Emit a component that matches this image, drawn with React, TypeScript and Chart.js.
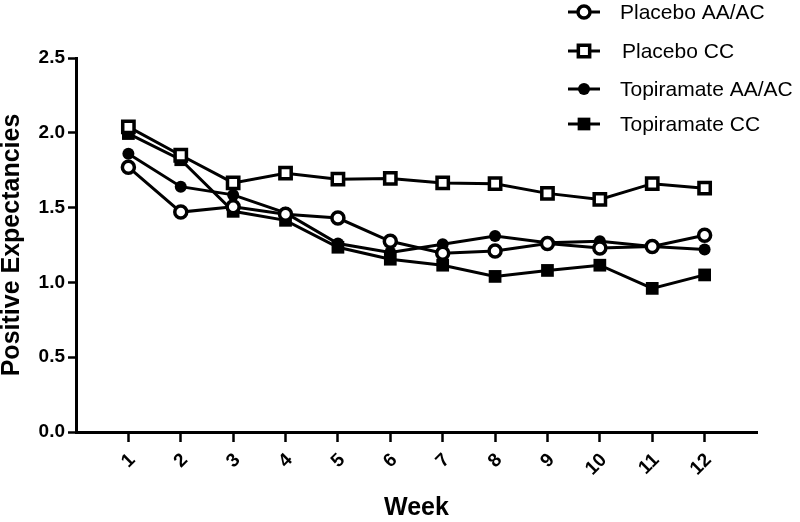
import React, { useEffect, useRef } from "react";
import { Chart, registerables } from "chart.js";

Chart.register(...registerables);

const weeks = [1, 2, 3, 4, 5, 6, 7, 8, 9, 10, 11, 12];
const placeboAA = [1.77, 1.47, 1.505, 1.455, 1.43, 1.275, 1.195, 1.21, 1.26, 1.23, 1.24, 1.315];
const placeboCC = [2.04, 1.85, 1.665, 1.73, 1.69, 1.695, 1.665, 1.66, 1.595, 1.555, 1.66, 1.63];
const topiramateAA = [1.86, 1.64, 1.585, 1.465, 1.26, 1.2, 1.255, 1.31, 1.265, 1.275, 1.24, 1.22];
const topiramateCC = [1.995, 1.82, 1.475, 1.415, 1.235, 1.155, 1.115, 1.04, 1.08, 1.115, 0.96, 1.05];
const seriesLabels = ["Placebo AA/AC", "Placebo CC", "Topiramate AA/AC", "Topiramate CC"];
const yTickValues = [0, 0.5, 1.0, 1.5, 2.0, 2.5];

const FONT = '"Liberation Sans", Arial, Helvetica, sans-serif';

function drawMarker(ctx: CanvasRenderingContext2D, style: string, x: number, y: number, r: number, fill: string, bw: number) {
  ctx.save();
  ctx.fillStyle = fill;
  ctx.strokeStyle = "#000";
  ctx.lineWidth = bw;
  ctx.beginPath();
  if (style === "rect") {
    const s = r * Math.SQRT1_2;
    ctx.rect(x - s, y - s, 2 * s, 2 * s);
  } else {
    ctx.arc(x, y, r, 0, Math.PI * 2);
  }
  ctx.fill();
  if (bw > 0) ctx.stroke();
  ctx.restore();
}

const legendRowsY = [12, 51, 89, 124];

const legendPlugin = {
  id: "customLegend",
  afterDraw(chart: any) {
    const ctx: CanvasRenderingContext2D = chart.ctx;
    ctx.save();
    chart.data.datasets.forEach((ds: any, i: number) => {
      const y = legendRowsY[i];
      ctx.strokeStyle = "#000";
      ctx.lineWidth = 3;
      ctx.beginPath();
      ctx.moveTo(568, y);
      ctx.lineTo(600, y);
      ctx.stroke();
      drawMarker(ctx, ds.pointStyle, 584, y, ds.pointRadius, ds.pointBackgroundColor, ds.pointBorderWidth);
      ctx.fillStyle = "#000";
      ctx.font = `21px ${FONT}`;
      ctx.textBaseline = "middle";
      ctx.textAlign = "left";
      ctx.fillText(ds.label, i === 1 ? 622 : 620, y + 1);
    });
    ctx.restore();
  },
};

export default function App() {
  const canvasRef = useRef<HTMLCanvasElement | null>(null);

  useEffect(() => {
    document.body.style.margin = "0";
    const canvas = canvasRef.current;
    if (!canvas) return;

    const mk = (label: string, values: number[], style: string, radius: number, fill: string, bw: number) => ({
      label,
      data: weeks.map((w, i) => ({ x: w, y: values[i] })),
      borderColor: "#000",
      borderWidth: 3,
      pointStyle: style,
      pointRadius: radius,
      pointHoverRadius: radius,
      pointBackgroundColor: fill,
      pointBorderColor: "#000",
      pointBorderWidth: bw,
      tension: 0,
      fill: false,
    });

    const chart = new Chart(canvas, {
      type: "line",
      data: {
        datasets: [
          mk(seriesLabels[0], placeboAA, "circle", 6, "#fff", 3.5),
          mk(seriesLabels[1], placeboCC, "rect", 8, "#fff", 3.5),
          mk(seriesLabels[2], topiramateAA, "circle", 6, "#000", 0),
          mk(seriesLabels[3], topiramateCC, "rect", 9, "#000", 0),
        ] as any,
      },
      options: {
        responsive: false,
        animation: false,
        layout: { padding: { top: 58, right: 43, left: 0, bottom: 0 } },
        plugins: {
          legend: { display: false },
          tooltip: { enabled: false },
        },
        scales: {
          x: {
            type: "linear",
            min: 0,
            max: 13,
            afterBuildTicks: (scale: any) => {
              scale.ticks = weeks.map((w) => ({ value: w }));
            },
            afterFit: (scale: any) => {
              scale.height = 90;
            },
            grid: {
              display: true,
              drawOnChartArea: false,
              drawTicks: true,
              tickLength: 10,
              tickWidth: 2.5,
              tickColor: "#000",
            },
            border: { display: true, color: "#000", width: 3 },
            ticks: {
              minRotation: 45,
              maxRotation: 45,
              padding: 7,
              labelOffset: 4,
              color: "#000",
              font: { family: FONT, size: 19, weight: "bold" },
              callback: (v: any) => String(v),
            },
            title: {
              display: true,
              text: "Week",
              color: "#000",
              font: { family: FONT, size: 25, weight: "bold", lineHeight: 1 },
              padding: { top: 0, bottom: 1 },
            },
          },
          y: {
            type: "linear",
            min: 0,
            max: 2.5,
            afterBuildTicks: (scale: any) => {
              scale.ticks = yTickValues.map((v) => ({ value: v }));
            },
            afterFit: (scale: any) => {
              scale.width = 76;
            },
            grid: {
              display: true,
              drawOnChartArea: false,
              drawTicks: true,
              tickLength: 8,
              tickWidth: 2.5,
              tickColor: "#000",
            },
            border: { display: true, color: "#000", width: 3 },
            ticks: {
              padding: 3,
              color: "#000",
              font: { family: FONT, size: 19, weight: "bold" },
              callback: (v: any) => Number(v).toFixed(1),
            },
            title: {
              display: true,
              text: "Positive Expectancies",
              color: "#000",
              font: { family: FONT, size: 25, weight: "bold", lineHeight: 1 },
              padding: { top: 0, bottom: 0 },
            },
          },
        },
      } as any,
      plugins: [legendPlugin],
    });

    return () => chart.destroy();
  }, []);

  return (
    <div style={{ width: 800, height: 522, background: "#fff" }}>
      <canvas ref={canvasRef} width={800} height={522} style={{ display: "block" }} />
    </div>
  );
}
